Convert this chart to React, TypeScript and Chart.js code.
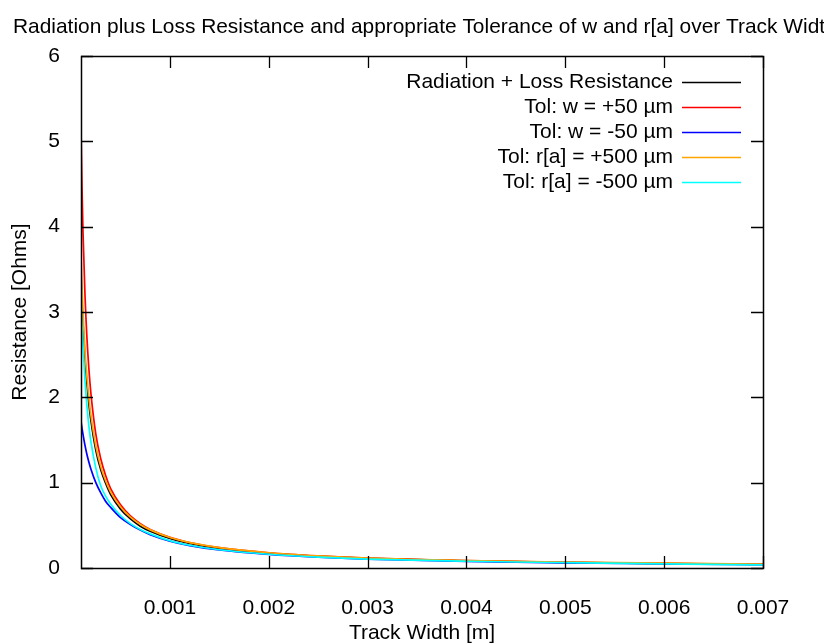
import { useEffect, useRef } from "react";
import { Chart, registerables } from "chart.js";

Chart.register(...registerables);

const TITLE = "Radiation plus Loss Resistance and appropriate Tolerance of w and r[a] over Track Width";
const X_LABEL = "Track Width [m]";
const Y_LABEL = "Resistance [Ohms]";

const X_TICKS = [0.001, 0.002, 0.003, 0.004, 0.005, 0.006, 0.007];
const Y_TICKS = [0, 1, 2, 3, 4, 5, 6];
const X_MIN = 0.0001;
const X_MAX = 0.007;
const Y_MIN = 0;
const Y_MAX = 6;

const TRACK_WIDTH = [
  0.0001, 0.00011, 0.00012, 0.00014, 0.00016, 0.00018, 0.0002, 0.00025, 0.0003, 0.00035,
  0.0004, 0.0005, 0.0006, 0.0007, 0.0008, 0.001, 0.0012, 0.0015, 0.002, 0.0025,
  0.003, 0.004, 0.005, 0.006, 0.007,
];

const R_NOMINAL = [
  3.45, 3.14, 2.88, 2.46, 2.16, 1.92, 1.73, 1.38, 1.15, 0.99,
  0.86, 0.69, 0.575, 0.49, 0.43, 0.345, 0.288, 0.23, 0.172, 0.137,
  0.112, 0.083, 0.065, 0.052, 0.042,
];
const R_W_PLUS = [
  5.15, 4.47, 3.95, 3.21, 2.7, 2.33, 2.05, 1.57, 1.28, 1.08,
  0.93, 0.74, 0.61, 0.52, 0.452, 0.36, 0.299, 0.238, 0.178, 0.141,
  0.115, 0.086, 0.067, 0.054, 0.044,
];
const R_W_MINUS = [
  1.72, 1.64, 1.57, 1.44, 1.33, 1.24, 1.16, 1.0, 0.88, 0.78,
  0.71, 0.59, 0.51, 0.444, 0.39, 0.315, 0.263, 0.211, 0.159, 0.126,
  0.104, 0.078, 0.061, 0.049, 0.039,
];
const R_RA_PLUS = [
  3.65, 3.3, 3.0, 2.55, 2.24, 1.99, 1.79, 1.43, 1.19, 1.02,
  0.89, 0.715, 0.595, 0.51, 0.447, 0.358, 0.298, 0.239, 0.179, 0.142,
  0.116, 0.087, 0.069, 0.056, 0.046,
];
const R_RA_MINUS = [
  3.15, 2.85, 2.6, 2.2, 1.9, 1.66, 1.48, 1.17, 0.96, 0.84,
  0.75, 0.615, 0.52, 0.452, 0.4, 0.32, 0.267, 0.214, 0.161, 0.128,
  0.105, 0.079, 0.062, 0.048, 0.036,
];

const SERIES_NAMES = [
  "Radiation + Loss Resistance",
  "Tol: w = +50 µm",
  "Tol: w = -50 µm",
  "Tol: r[a] = +500 µm",
  "Tol: r[a] = -500 µm",
];
const SERIES_VALUES = [R_NOMINAL, R_W_PLUS, R_W_MINUS, R_RA_PLUS, R_RA_MINUS];
const SERIES_COLORS = ["#000000", "#ff0000", "#0000ff", "#ffa500", "#00ffff"];

const FONT_FAMILY = "'Liberation Sans', Arial, sans-serif";
const FONT_SIZE = 21;

const framePlugin = {
  id: "gnuplotFrame",
  beforeDraw(chart: any) {
    const ctx = chart.ctx;
    ctx.save();
    ctx.fillStyle = "#ffffff";
    ctx.fillRect(0, 0, chart.width, chart.height);
    ctx.fillStyle = "#000000";
    ctx.font = `20.9px ${FONT_FAMILY}`;
    ctx.textAlign = "left";
    ctx.textBaseline = "middle";
    ctx.fillText(TITLE, 13, 27);
    ctx.restore();
  },
  afterDatasetsDraw(chart: any) {
    const ctx = chart.ctx;
    const { left, right, top, bottom } = chart.chartArea;
    const xs = chart.scales.x;
    const ys = chart.scales.y;
    const tick = 12;
    ctx.save();
    ctx.strokeStyle = "#000000";
    ctx.lineWidth = 1.3;
    ctx.beginPath();
    for (const v of X_TICKS) {
      const px = Math.round(xs.getPixelForValue(v)) + 0.5;
      ctx.moveTo(px, bottom);
      ctx.lineTo(px, bottom - tick);
      ctx.moveTo(px, top);
      ctx.lineTo(px, top + tick);
    }
    for (const v of Y_TICKS) {
      const py = Math.round(ys.getPixelForValue(v)) + 0.5;
      ctx.moveTo(left, py);
      ctx.lineTo(left + tick, py);
      ctx.moveTo(right, py);
      ctx.lineTo(right - tick, py);
    }
    ctx.stroke();
    ctx.lineWidth = 1.5;
    ctx.strokeRect(Math.round(left) + 0.5, Math.round(top) + 0.5, Math.round(right - left), Math.round(bottom - top));

    // key (legend)
    ctx.font = `${FONT_SIZE}px ${FONT_FAMILY}`;
    ctx.textAlign = "right";
    ctx.textBaseline = "middle";
    const rowY0 = 82;
    const rowStep = 25;
    SERIES_NAMES.forEach((name, i) => {
      const y = rowY0 + i * rowStep;
      ctx.fillStyle = "#000000";
      ctx.fillText(name, 673, y);
      ctx.strokeStyle = SERIES_COLORS[i];
      ctx.lineWidth = 1.6;
      ctx.beginPath();
      ctx.moveTo(682, y + 0.5);
      ctx.lineTo(741, y + 0.5);
      ctx.stroke();
    });
    ctx.restore();
  },
};

export default function App() {
  const canvasRef = useRef<HTMLCanvasElement | null>(null);

  useEffect(() => {
    const canvas = canvasRef.current;
    if (!canvas) return;
    const datasets = SERIES_NAMES.map((name, i) => ({
      label: name,
      data: TRACK_WIDTH.map((x, j) => ({ x, y: SERIES_VALUES[i][j] })),
      borderColor: SERIES_COLORS[i],
      backgroundColor: SERIES_COLORS[i],
      borderWidth: 1.7,
      pointRadius: 0,
      fill: false,
      cubicInterpolationMode: "monotone" as const,
      order: SERIES_NAMES.length - i,
    }));

    const chart = new Chart(canvas, {
      type: "line",
      data: { datasets },
      options: {
        animation: false,
        responsive: false,
        devicePixelRatio: 1,
        layout: { padding: { top: 56, right: 61, left: 0, bottom: 0 } },
        plugins: {
          legend: { display: false },
          title: { display: false },
          tooltip: { enabled: false },
        },
        scales: {
          x: {
            type: "linear",
            min: X_MIN,
            max: X_MAX,
            grid: { display: false },
            border: { display: false },
            afterBuildTicks: (scale: any) => {
              scale.ticks = X_TICKS.map((value) => ({ value }));
            },
            afterFit: (scale: any) => {
              scale.height = 76;
            },
            ticks: {
              color: "#000000",
              padding: 20,
              maxRotation: 0,
              autoSkip: false,
              font: { family: FONT_FAMILY, size: FONT_SIZE },
              callback: (v: any) => Number(v).toFixed(3),
            },
            title: {
              display: true,
              text: X_LABEL,
              color: "#000000",
              font: { family: FONT_FAMILY, size: FONT_SIZE, lineHeight: 1 },
              padding: { top: 0, bottom: 0.5 },
            },
          },
          y: {
            type: "linear",
            min: Y_MIN,
            max: Y_MAX,
            grid: { display: false },
            border: { display: false },
            afterBuildTicks: (scale: any) => {
              scale.ticks = Y_TICKS.map((value) => ({ value }));
            },
            afterFit: (scale: any) => {
              scale.width = 81;
            },
            ticks: {
              color: "#000000",
              padding: 13,
              font: { family: FONT_FAMILY, size: FONT_SIZE },
              callback: (v: any) => String(v),
            },
            title: {
              display: true,
              text: Y_LABEL,
              color: "#000000",
              font: { family: FONT_FAMILY, size: FONT_SIZE, lineHeight: 1 },
              padding: { top: 9.5, bottom: 0 },
            },
          },
        },
      },
      plugins: [framePlugin],
    });

    return () => {
      chart.destroy();
    };
  }, []);

  return (
    <div style={{ position: "fixed", left: 0, top: 0, width: 824, height: 644, background: "#ffffff" }}>
      <canvas ref={canvasRef} width={824} height={644} style={{ width: 824, height: 644, display: "block" }} />
    </div>
  );
}
